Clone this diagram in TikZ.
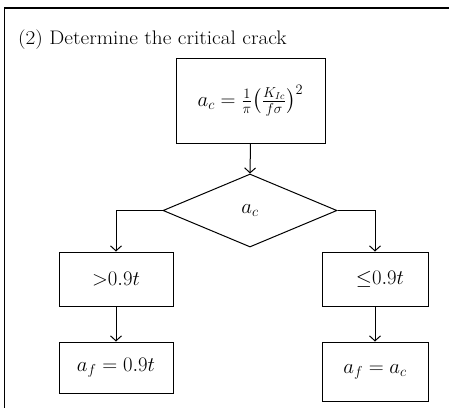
\documentclass[tikz,border=0pt]{standalone}
\usepackage{amsmath}
\usetikzlibrary{shapes.geometric,arrows.meta}
\begin{document}
\begin{tikzpicture}[x=1pt,y=-1pt,
  every node/.style={font=\fontsize{20}{24}\selectfont},
  boxnode/.style={draw,line width=1pt,rectangle,inner sep=0pt},
  decnode/.style={draw,line width=1pt,diamond,inner sep=0pt,minimum width=174pt,minimum height=73pt},
  conn/.style={line width=1pt,-{Straight Barb[length=5pt,width=11pt,line width=1pt]}},
  framestyle/.style={line width=1.4pt}]
\useasboundingbox (0,0) rectangle (449,408);
\draw[framestyle] (449,8) -- (4.5,8) -- (4.5,408);
\node[anchor=base west,inner sep=0pt,font=\fontsize{19.6}{23}\selectfont] (title) at (18,44) {\scalebox{1.085}[1]{(2) Determine the critical crack}};
\node[boxnode,minimum width=149pt,minimum height=85pt] (top) at (250.5,100.5) {\raisebox{-5pt}{$a_c = \tfrac{1}{\pi}\bigl(\tfrac{K_{Ic}}{f\sigma}\bigr)^2$}};
\node[decnode] (dec) at (250,210.5) {$a_c$};
\node[boxnode,minimum width=114pt,minimum height=54pt] (l1) at (116,279) {${>}0.9t$};
\node[boxnode,minimum width=106pt,minimum height=54pt] (r1) at (375,279) {\hspace{10pt}${\leq}0.9t$};
\node[boxnode,minimum width=114pt,minimum height=51pt] (l2) at (116,367.5) {$a_f = 0.9t$};
\node[boxnode,minimum width=106pt,minimum height=59pt] (r2) at (375,371.5) {$a_f = a_c$};
\draw[conn] (top.south) -- (dec.north);
\draw[conn] (dec.west) -| (l1.north);
\draw[conn] (dec.east) -| (r1.north);
\draw[conn] (l1.south) -- (l2.north);
\draw[conn] (r1.south) -- (r2.north);
\end{tikzpicture}
\end{document}
